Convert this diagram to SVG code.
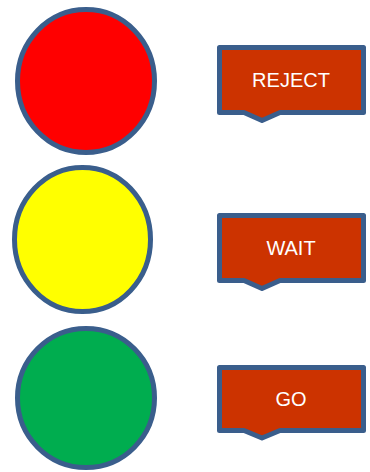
<svg xmlns="http://www.w3.org/2000/svg" width="370" height="472" viewBox="0 0 370 472">
<style>
.ln{stroke:#3a5e8c;stroke-width:5;stroke-linejoin:round}
.co{fill:#cc3300}
.lb{font-family:"Liberation Sans",Arial,sans-serif;font-size:20px;fill:#ffffff;text-anchor:middle}
</style>
<rect width="370" height="472" fill="#ffffff"/>
<g id="red-light"><ellipse class="ln" cx="86" cy="81" rx="68.5" ry="71.5" fill="#ff0000"/></g>
<g id="yellow-light"><ellipse class="ln" cx="82.5" cy="239.5" rx="68" ry="72" fill="#ffff00"/></g>
<g id="green-light"><ellipse class="ln" cx="86" cy="398" rx="68.5" ry="69.5" fill="#00ad4f"/></g>
<g id="reject">
<path class="ln co" d="M219.5 47.5H363.5V112.5H280L262 120.5L244 112.5H219.5Z"/>
<text class="lb" x="291" y="87">REJECT</text>
</g>
<g id="wait">
<path class="ln co" d="M219.5 215.5H363.5V280.5H280L262 288.5L244 280.5H219.5Z"/>
<text class="lb" x="291" y="255">WAIT</text>
</g>
<g id="go">
<path class="ln co" d="M219.5 367.5H363.5V430.5H280L262 438L244 430.5H219.5Z"/>
<text class="lb" x="291" y="406">GO</text>
</g>
<g id="connectors"/>
</svg>
